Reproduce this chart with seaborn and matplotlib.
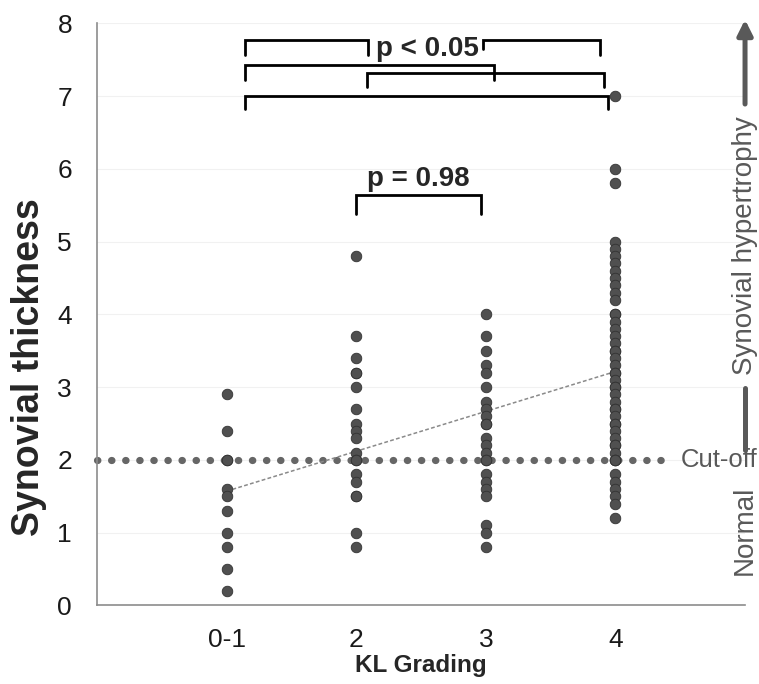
import numpy as np
import pandas as pd
import matplotlib
matplotlib.use("Agg")
import matplotlib.pyplot as plt
import seaborn as sns

# --- data ---
grades = ["0-1", "2", "3", "4"]
kl01 = [2.9, 2.4, 2.0, 2.0, 1.6, 1.5, 1.3, 1.0, 0.8, 0.5, 0.2]
kl2 = [4.8, 3.7, 3.4, 3.2, 3.2, 3.0, 2.7, 2.5, 2.4, 2.3, 2.1, 2.0, 2.0,
       1.8, 1.7, 1.5, 1.5, 1.0, 0.8]
kl3 = [4.0, 3.7, 3.5, 3.3, 3.2, 3.0, 2.8, 2.7, 2.6, 2.5, 2.5, 2.3, 2.2,
       2.1, 2.0, 2.0, 1.8, 1.7, 1.6, 1.5, 1.1, 1.0, 0.8]
kl4 = [7.0, 6.0, 5.8, 5.0, 4.9, 4.8, 4.7, 4.6, 4.5, 4.4, 4.3, 4.2, 4.0,
       4.0, 3.9, 3.8, 3.7, 3.6, 3.5, 3.5, 3.4, 3.3, 3.2, 3.2, 3.1, 3.0,
       3.0, 2.9, 2.8, 2.7, 2.7, 2.6, 2.5, 2.5, 2.4, 2.3, 2.2, 2.2, 2.1,
       2.0, 2.0, 2.0, 1.8, 1.7, 1.6, 1.5, 1.4, 1.2]
cutoff = 2.0
p_all = "p < 0.05"
p_23 = "p = 0.98"
# brackets: x left, x right, top y, left foot, right foot
brackets = [
    (0.14, 1.09, 7.77, 7.57, 7.57),
    (1.98, 2.88, 7.77, 7.65, 7.57),
    (0.14, 2.06, 7.43, 7.22, 7.22),
    (1.08, 2.91, 7.32, 7.13, 7.13),
    (0.14, 2.94, 7.00, 6.82, 6.82),
    (1.00, 1.96, 5.64, 5.38, 5.38),
]

df = pd.DataFrame({
    "grade": ["0-1"] * len(kl01) + ["2"] * len(kl2) + ["3"] * len(kl3) + ["4"] * len(kl4),
    "thick": kl01 + kl2 + kl3 + kl4,
})
df["pos"] = df["grade"].map({g: i for i, g in enumerate(grades)})

sns.set_style("white")
plt.rcParams["font.family"] = ["Liberation Sans", "DejaVu Sans"]

fig = plt.figure(figsize=(7.59, 6.84), dpi=100)
ax = fig.add_axes([0.1278, 0.1148, 0.8538, 0.8512])

ax.grid(True, color="#f1f1f1", lw=0.8)
ax.set_axisbelow(True)

sns.stripplot(data=df, x="grade", y="thick", order=grades, jitter=False,
              color="#505050", size=7.6, edgecolor="#333333", linewidth=0.6,
              ax=ax, zorder=3)

# cut-off line (round dots)
ax.plot([-1, 3.45], [cutoff, cutoff], color="#666666", lw=5.2,
        dashes=(0.05, 1.9), dash_capstyle="round", zorder=2, clip_on=False)

# linear trend
sns.regplot(data=df, x="pos", y="thick", scatter=False, ci=None, truncate=True,
            line_kws=dict(color="#8a8a8a", lw=1.1, ls=(0, (2.5, 1.5))), ax=ax)

# significance brackets
for xl, xr, yt, yl, yr in brackets:
    ax.plot([xl, xl, xr, xr], [yl, yt, yt, yr], color="black", lw=2,
            solid_joinstyle="miter", zorder=4)
ax.text(1.55, 7.64, p_all, ha="center", va="center", fontsize=20,
        fontweight="bold", zorder=5,
        bbox=dict(facecolor="white", edgecolor="none", pad=0.5))
ax.text(1.48, 5.86, p_23, ha="center", va="center", fontsize=20,
        fontweight="bold", zorder=5)

# right-hand side annotations
side = "#595959"
ax.annotate("", xy=(4.0, 8.05), xytext=(4.0, 6.89),
            arrowprops=dict(arrowstyle="-|>,head_length=0.9,head_width=0.45",
                            color=side, lw=3.6, shrinkA=0, shrinkB=0),
            annotation_clip=False)
ax.text(4.0, 4.94, "Synovial hypertrophy", rotation=90, ha="center",
        va="center", fontsize=20, color=side, clip_on=False)
ax.plot([4.0, 4.0], [2.99, 2.13], color=side, lw=3.6,
        solid_capstyle="round", clip_on=False)
ax.text(4.1, cutoff, "Cut-off", ha="right", va="center", fontsize=18.5,
        color=side, clip_on=False, zorder=5)
ax.text(4.0, 1.03, "Normal", rotation=90, ha="center", va="center",
        fontsize=20, color=side, clip_on=False)

ax.set_xlim(-1, 4)
ax.set_ylim(0, 8)
ax.set_yticks(range(0, 9))
ax.tick_params(axis="y", labelsize=19, pad=18, length=0, colors="#1a1a1a")
ax.tick_params(axis="x", labelsize=19, pad=16, length=0, colors="#1a1a1a")
ax.set_xlabel("KL Grading", fontsize=17.5, fontweight="bold", labelpad=2)
ax.set_ylabel("Synovial thickness", fontsize=27, fontweight="bold")
ax.yaxis.set_label_coords(-0.077, 0.41)

sns.despine(ax=ax)
for s in ["left", "bottom"]:
    ax.spines[s].set_color("#8c8c8c")
    ax.spines[s].set_linewidth(1.2)

fig.savefig("out.png", dpi=100)
